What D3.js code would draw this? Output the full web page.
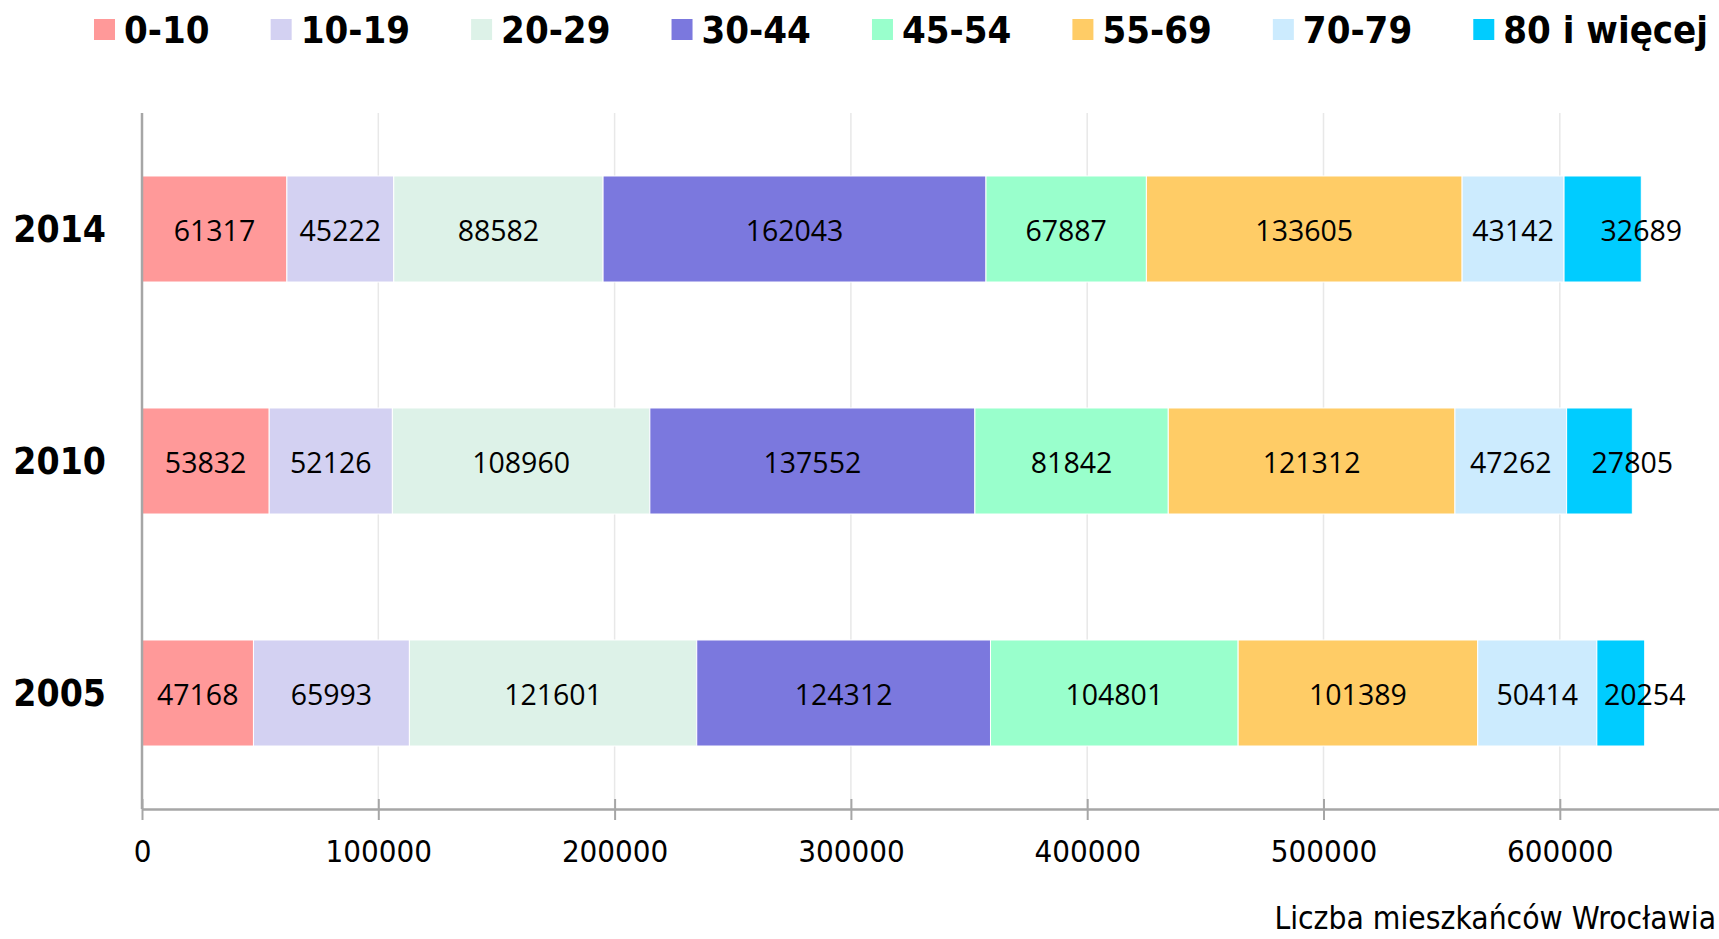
<!DOCTYPE html>
<html>
<head>
<meta charset="utf-8">
<script src="https://cdn.jsdelivr.net/npm/d3@7"></script>
<style>
  body { margin: 0; background: #fff; }
  svg { display: block; }
  .legend-text { font-family: "DejaVu Sans Condensed", "DejaVu Sans", sans-serif; font-weight: bold; font-size: 38px; }
  .year { font-family: "DejaVu Sans Condensed", "DejaVu Sans", sans-serif; font-weight: bold; font-size: 37px; }
  .tick text { font-family: "DejaVu Sans Condensed", "DejaVu Sans", sans-serif; font-size: 31px; fill: #000; }
  .val { font-family: "Open Sans", sans-serif; font-size: 28.5px; fill: #000; }
  .title { font-family: "DejaVu Sans Condensed", "DejaVu Sans", sans-serif; font-size: 31.5px; }
</style>
</head>
<body>
<div id="chart"></div>
<script>
// data
var years = ["2014", "2010", "2005"];
var ageGroups = ["0-10", "10-19", "20-29", "30-44", "45-54", "55-69", "70-79", "80 i więcej"];
var v2014 = [61317, 45222, 88582, 162043, 67887, 133605, 43142, 32689];
var v2010 = [53832, 52126, 108960, 137552, 81842, 121312, 47262, 27805];
var v2005 = [47168, 65993, 121601, 124312, 104801, 101389, 50414, 20254];
var tickValues = [0, 100000, 200000, 300000, 400000, 500000, 600000];
var groupColors = ["#FF9999", "#D3D1F2", "#DDF2E8", "#7B78DE", "#99FFCC", "#FFCC66", "#CCEBFE", "#00CCFF"];

function main() {
    var width = 1719, height = 939;
    var margin = {left: 142, top: 113, bottom: 130};

    var svg = d3.select("#chart").append("svg")
        .attr("width", width).attr("height", height);

    var byYear = {"2014": v2014, "2010": v2010, "2005": v2005};
    var rows = years.map(function(y) {
        var r = {year: y};
        ageGroups.forEach(function(g, i) { r[g] = byYear[y][i]; });
        return r;
    });
    var series = d3.stack().keys(ageGroups)(rows);

    var x = d3.scaleLinear().domain([0, 700000]).range([margin.left, margin.left + 236.3 * 7]);
    var y = d3.scaleBand().domain(years)
        .range([margin.top, height - margin.bottom])
        .paddingInner(0.543).paddingOuter(0.2715);
    var color = d3.scaleOrdinal().domain(ageGroups).range(groupColors);
    var axisY = height - margin.bottom;

    // grid
    svg.append("g").selectAll("line").data(tickValues.slice(1)).enter().append("line")
        .attr("x1", function(d) { return x(d); }).attr("x2", function(d) { return x(d); })
        .attr("y1", margin.top).attr("y2", axisY)
        .attr("stroke", "#E8E8E8").attr("stroke-width", 1.5);

    // bars
    var layers = svg.append("g").selectAll("g").data(series).enter().append("g")
        .attr("fill", function(d) { return color(d.key); });
    layers.selectAll("rect").data(function(d) { return d; }).enter().append("rect")
        .attr("x", function(d) { return x(d[0]); })
        .attr("width", function(d) { return x(d[1]) - x(d[0]); })
        .attr("y", function(d) { return y(d.data.year); })
        .attr("height", y.bandwidth())
        .attr("stroke", "#fff").attr("stroke-width", 1);

    // value labels, the last group's label sits on the end of the bar
    var last = ageGroups[ageGroups.length - 1];
    layers.each(function(s) {
        d3.select(this).selectAll("text").data(s).enter().append("text")
            .classed("val", true)
            .attr("text-anchor", "middle")
            .attr("x", function(d) { return s.key === last ? x(d[1]) : x((d[0] + d[1]) / 2); })
            .attr("y", function(d) { return y(d.data.year) + y.bandwidth() / 2; })
            .attr("dy", "0.42em")
            .text(function(d) { return d.data[s.key]; });
    });

    // x axis
    var xAxis = svg.append("g").attr("transform", "translate(0," + axisY + ")")
        .call(d3.axisBottom(x).tickValues(tickValues).tickFormat(d3.format("d")).tickSizeOuter(0));
    xAxis.select(".domain").attr("stroke", "#A6A6A6").attr("stroke-width", 2.5);
    xAxis.selectAll(".tick line").attr("y1", -10).attr("y2", 11)
        .attr("stroke", "#A6A6A6").attr("stroke-width", 2);
    xAxis.selectAll(".tick text").attr("y", 42).attr("dy", "0.35em");

    // y axis line
    svg.append("line").attr("x1", margin.left).attr("x2", margin.left)
        .attr("y1", margin.top).attr("y2", axisY)
        .attr("stroke", "#A6A6A6").attr("stroke-width", 2.5);

    svg.append("g").selectAll("text").data(years).enter().append("text")
        .classed("year", true)
        .attr("text-anchor", "end")
        .attr("x", 106)
        .attr("y", function(d) { return y(d) + y.bandwidth() / 2; })
        .attr("dy", "0.36em")
        .text(function(d) { return d; });

    svg.append("text").classed("title", true)
        .attr("text-anchor", "end").attr("x", width - 3).attr("y", 929)
        .text("Liczba mieszkańców Wrocławia");

    // legend, items flow left to right, gaps spread so it ends near the right edge
    var lg = svg.append("g");
    var items = ageGroups.map(function(g) {
        var t = lg.append("text").classed("legend-text", true).attr("y", 43).text(g);
        return {g: g, t: t, w: t.node().getComputedTextLength()};
    });
    var startX = 94, endX = 1708;
    var used = d3.sum(items, function(d) { return 30 + d.w; });
    var gap = (endX - startX - used) / (items.length - 1);
    var lx = startX;
    items.forEach(function(d) {
        lg.append("rect").attr("x", lx).attr("y", 19).attr("width", 21).attr("height", 21)
            .attr("fill", color(d.g));
        d.t.attr("x", lx + 30);
        lx = lx + 30 + d.w + gap;
    });
}
main();
</script>
</body>
</html>
